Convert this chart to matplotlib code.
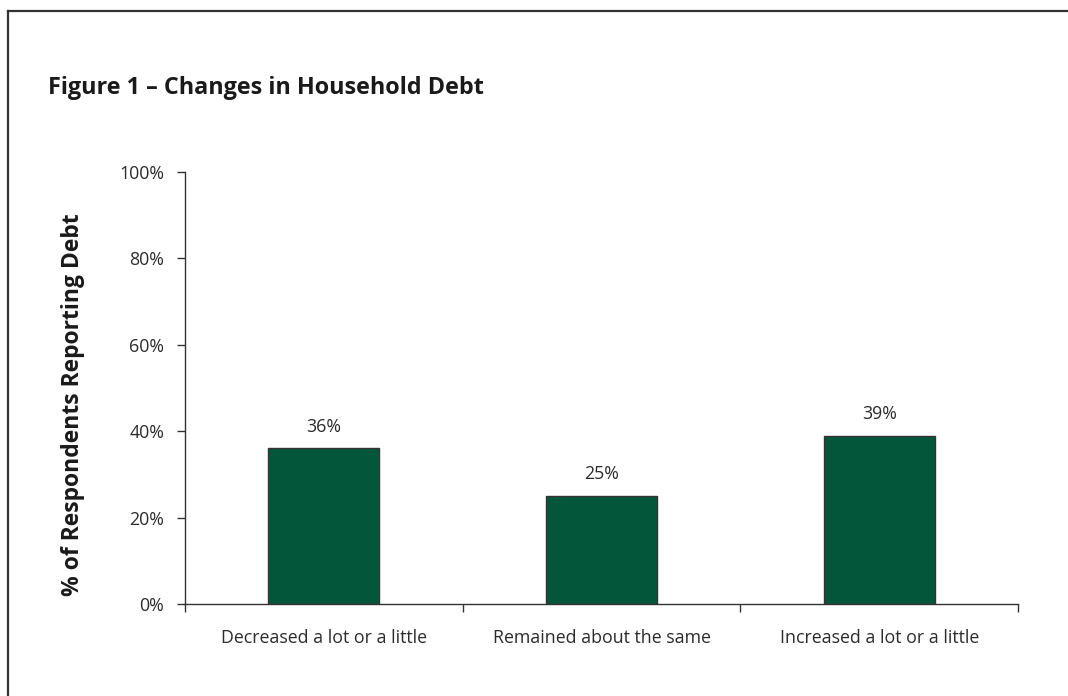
import numpy as np
import matplotlib.pyplot as plt
from matplotlib.lines import Line2D
from matplotlib.ticker import FixedLocator

plt.rcParams['font.family'] = ['Open Sans', 'DejaVu Sans']

# Share of respondents reporting debt, by change in household debt
categories = ["Decreased a lot or a little", "Remained about the same", "Increased a lot or a little"]
values = [36, 25, 39]

bar_color = "#04563B"
text_color = "#2b2b2b"

fig = plt.figure(figsize=(10.68, 6.96), dpi=100)
ax = fig.add_axes([0.1732, 0.1322, 0.78, 0.6207])

x = np.arange(len(categories))
ax.bar(x, values, width=0.4, color=bar_color, edgecolor="#333333", linewidth=1.0, zorder=2)

for xi, v in zip(x, values):
    ax.annotate("%d%%" % v, (xi, v), xytext=(0, 9), textcoords="offset points",
                ha="center", va="bottom", fontsize=12.8, color=text_color)

ax.set_xlim(-0.5, len(categories) - 0.5)
ax.set_ylim(0, 100)
ax.set_yticks(range(0, 101, 20))
ax.set_yticklabels(["%d%%" % t for t in range(0, 101, 20)])
ax.set_xticks(x)
ax.set_xticklabels(categories)
ax.xaxis.set_minor_locator(FixedLocator(np.arange(-0.5, len(categories), 1.0)))

ax.tick_params(axis="x", which="major", length=0, pad=18, labelsize=12.8, labelcolor=text_color)
ax.tick_params(axis="x", which="minor", length=6, width=1.0, color="#333333", direction="out")
ax.tick_params(axis="y", length=6, width=1.0, color="#333333", direction="out",
               pad=9, labelsize=12.8, labelcolor=text_color)

for side in ["top", "right"]:
    ax.spines[side].set_visible(False)
for side in ["left", "bottom"]:
    ax.spines[side].set_color("#333333")
    ax.spines[side].set_linewidth(1.0)

ax.set_ylabel("% of Respondents Reporting Debt", fontsize=16.5, fontweight="bold",
              color="#1a1a1a", va="center")
ax.yaxis.set_label_coords((73 - 185) / 833, (604 - 404.5) / 432)

fig.text(48 / 1068, 1 - 88 / 696, "Figure 1 \u2013 Changes in Household Debt",
         fontsize=16.8, fontweight="bold", color="#1a1a1a", ha="left", va="center")

# frame around the figure
fig.add_artist(Line2D([7.5 / 1068, 1.0], [1 - 10.5 / 696, 1 - 10.5 / 696],
                      transform=fig.transFigure, color="#333333", linewidth=1.6))
fig.add_artist(Line2D([7.5 / 1068, 7.5 / 1068], [0.0, 1 - 10.5 / 696],
                      transform=fig.transFigure, color="#333333", linewidth=1.6))

fig.savefig("out.png", dpi=100)
